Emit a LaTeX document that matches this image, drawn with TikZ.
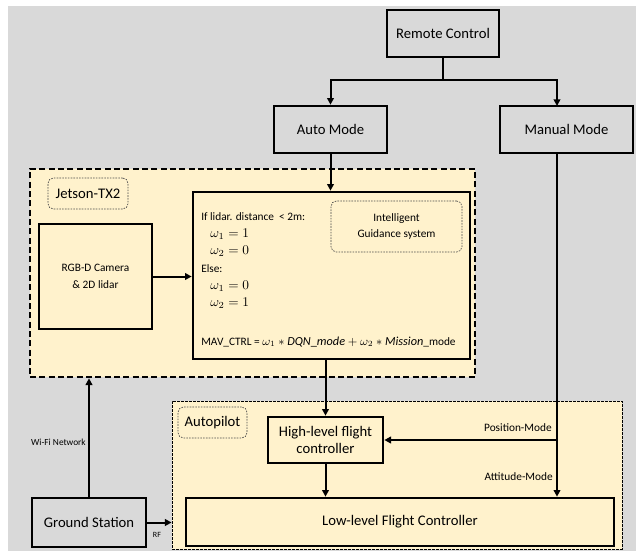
\documentclass[tikz,border=0pt]{standalone}
\usepackage{fontspec}
\setmainfont{Carlito}
\usetikzlibrary{arrows.meta,calc}
\definecolor{bggray}{HTML}{D9D9D9}
\definecolor{cream}{HTML}{FFF2CC}
\newcommand{\mth}[1]{{\fontsize{10}{12}\selectfont$#1$}}
\newcommand{\mthb}[1]{{\fontsize{9.2}{11}\selectfont$#1$}}
\tikzset{
  thickbox/.style={draw=black, line width=2pt, rectangle, inner sep=0pt, align=center, font=\fontsize{11}{13.5}\selectfont},
  graybox/.style={thickbox, fill=bggray},
  creambox/.style={thickbox, fill=cream},
  jetbox/.style={draw=black, line width=2pt, dash pattern=on 4.5pt off 2.5pt, fill=cream, inner sep=0pt},
  apbox/.style={draw=black, line width=0.6pt, dash pattern=on 2pt off 1pt, fill=cream, inner sep=0pt},
  tagbox/.style={draw=black!70, line width=0.5pt, dash pattern=on 1.2pt off 0.9pt, rounded corners=4pt, inner sep=0pt, align=center},
  smalltxt/.style={font=\fontsize{8.5}{10}\selectfont, inner sep=0pt},
  tinytxt/.style={font=\fontsize{7}{8}\selectfont, inner sep=0pt},
  arr/.style={line width=1.5pt, -{Triangle[length=5pt,width=5pt]}},
  ln/.style={line width=1.5pt}
}
\begin{document}
\begin{tikzpicture}[x=0.75pt,y=-0.75pt]
\useasboundingbox (0,0) rectangle (636,551);
\fill[bggray] (8,6) rectangle (636,551);

% containers
\node[jetbox, minimum width=333.75pt, minimum height=156pt] (jetson) at (252.5,273) {};
\node[apbox, minimum width=337.5pt, minimum height=111pt] (autopilot) at (397,475) {};

% top boxes
\node[graybox, minimum width=84pt, minimum height=35.25pt] (rc) at (443,33.5) {Remote Control};
\node[graybox, minimum width=84.75pt, minimum height=35.25pt] (auto) at (330.5,129.5) {Auto Mode};
\node[graybox, minimum width=99.75pt, minimum height=35.25pt] (manual) at (566.5,129.5) {Manual Mode};

% Jetson contents
\node[tagbox, minimum width=60pt, minimum height=23.25pt, font=\fontsize{11}{13}\selectfont] (jlabel) at (88,193.5) {Jetson-TX2};
\node[creambox, minimum width=84.75pt, minimum height=78.75pt, font=\fontsize{8.5}{12.5}\selectfont] (rgbd) at (95.5,276.5) {RGB-D Camera\\\& 2D lidar};
\node[creambox, minimum width=207.75pt, minimum height=125.25pt] (main) at (331.5,275.5) {};
\node[tagbox, minimum width=98.25pt, minimum height=38.25pt, font=\fontsize{8.5}{12.5}\selectfont] (igs) at (396.5,226.5) {Intelligent\\Guidance system};

\node[smalltxt, anchor=west] (t1) at (201,217) {If lidar. distance\ \ < 2m:};
\node[smalltxt, anchor=west] (t2) at (210,234) {\mth{\omega_1 = 1}};
\node[smalltxt, anchor=west] (t3) at (210,251) {\mth{\omega_2 = 0}};
\node[smalltxt, anchor=west] (t4) at (201,269) {Else:};
\node[smalltxt, anchor=west] (t5) at (210,286) {\mth{\omega_1 = 0}};
\node[smalltxt, anchor=west] (t6) at (210,303) {\mth{\omega_2 = 1}};
\node[smalltxt, anchor=west] (t7) at (201,342) {MAV\_CTRL = \mthb{\omega_1 * \mathit{DQN\_mode} + \omega_2 * \mathit{Mission}}\_mode};

% Autopilot contents
\node[tagbox, minimum width=51.75pt, minimum height=23.25pt, font=\fontsize{11}{13}\selectfont] (aplabel) at (212.5,422.5) {Autopilot};
\node[creambox, minimum width=86.25pt, minimum height=34.5pt, font=\fontsize{11}{13}\selectfont] (high) at (325.5,440) {High-level flight\\controller};
\node[creambox, minimum width=321pt, minimum height=36pt] (low) at (400,522) {Low-level Flight Controller};

% ground station
\node[graybox, minimum width=85.5pt, minimum height=36.75pt] (gs) at (89,522.5) {Ground Station};

% helper coordinates
\coordinate (split) at (443,80);
\coordinate (mx) at (557,106);

% connectors
\draw[ln] (rc.south) -- (split);
\draw[arr] (split) -| (auto.north);
\draw[arr] (split) -| (mx);
\draw[arr] (auto.south) -- (auto.south |- main.north);
\draw[arr] (rgbd.east) -- (rgbd.east -| main.west);
\draw[arr] (main.south -| high.north) -- (high.north);
\draw[arr] (high.south) -- (high.south |- low.north);
\draw[arr] (mx |- manual.south) -- (mx |- low.north);
\draw[arr] (mx |- high.east) -- (high.east);
\draw[arr] (gs.north) -- (gs.north |- jetson.south);
\draw[arr] (gs.east) -- (gs.east -| autopilot.west);

% labels
\node[tinytxt, anchor=east] (wifi) at (86,442) {Wi-Fi Network};
\node[smalltxt, anchor=east] (pos) at (552,428) {Position-Mode};
\node[smalltxt, anchor=east] (att) at (553,477) {Attitude-Mode};
\node[font=\fontsize{6}{7}\selectfont, inner sep=0pt] (rf) at (157,535) {RF};
\end{tikzpicture}
\end{document}
